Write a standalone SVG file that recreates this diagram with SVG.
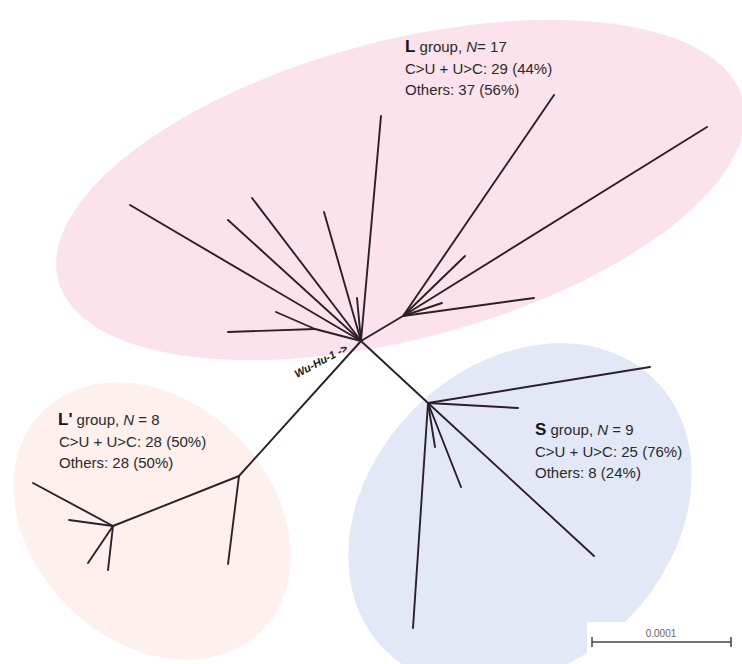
<svg xmlns="http://www.w3.org/2000/svg" width="742" height="664" viewBox="0 0 742 664">
<style>
.bg{fill:#ffffff}
.br{stroke:#2b2028;stroke-width:1.9;stroke-linecap:round;fill:none}
.t{font-family:"Liberation Sans",Arial,sans-serif;font-size:15px;fill:#2a2a2a}
.b{font-weight:bold;font-size:17px;fill:#141414}
.i{font-style:italic}
.wu{font-family:"Liberation Sans",Arial,sans-serif;font-size:11px;font-weight:bold;font-style:italic;fill:#1a1a1a}
.sc{font-family:"Liberation Sans",Arial,sans-serif;font-size:10px;fill:#666666}
</style>
<rect class="bg" x="0" y="0" width="742" height="664"/>

<g id="group-L">
  <ellipse cx="400.5" cy="190" rx="354" ry="149" transform="rotate(-14.8 400.5 190)" fill="#fbe2eb"/>
  <text class="t" x="405" y="52"><tspan class="b">L</tspan> group,  <tspan class="i">N</tspan>= 17</text>
  <text class="t" x="405" y="74">C&gt;U + U&gt;C: 29 (44%)</text>
  <text class="t" x="405" y="95">Others: 37 (56%)</text>
</g>

<g id="group-Lprime">
  <ellipse cx="152" cy="521" rx="155" ry="120" transform="rotate(45 152 521)" fill="#fdf0ed"/>
  <text class="t" x="58" y="425"><tspan class="b">L'</tspan> group, <tspan class="i">N</tspan> = 8</text>
  <text class="t" x="59" y="447">C&gt;U + U&gt;C: 28 (50%)</text>
  <text class="t" x="59" y="468">Others: 28 (50%)</text>
</g>

<g id="group-S">
  <ellipse cx="520" cy="515" rx="191" ry="150" transform="rotate(-45 520 515)" fill="#e3e8f7"/>
  <rect x="587" y="622" width="155" height="42" fill="#ffffff"/>
  <text class="t" x="535" y="435"><tspan class="b">S</tspan> group, <tspan class="i">N</tspan> = 9</text>
  <text class="t" x="535" y="457">C&gt;U + U&gt;C: 25 (76%)</text>
  <text class="t" x="535" y="478">Others: 8 (24%)</text>
</g>

<g id="connectors">
  <!-- L group, from root -->
  <line class="br" x1="361" y1="341" x2="381" y2="116"/>
  <line class="br" x1="361" y1="341" x2="130" y2="205"/>
  <line class="br" x1="361" y1="341" x2="228" y2="220"/>
  <line class="br" x1="361" y1="341" x2="252" y2="198"/>
  <line class="br" x1="361" y1="341" x2="324" y2="212"/>
  <line class="br" x1="361" y1="341" x2="357" y2="298"/>
  <!-- L left sub-clade -->
  <line class="br" x1="361" y1="341" x2="315" y2="329"/>
  <line class="br" x1="315" y1="329" x2="228" y2="332"/>
  <line class="br" x1="315" y1="329" x2="276" y2="312"/>
  <!-- L right sub-clade -->
  <line class="br" x1="361" y1="341" x2="403" y2="316"/>
  <line class="br" x1="403" y1="316" x2="554" y2="95"/>
  <line class="br" x1="403" y1="316" x2="707" y2="127"/>
  <line class="br" x1="403" y1="316" x2="465" y2="256"/>
  <line class="br" x1="403" y1="316" x2="442" y2="303"/>
  <line class="br" x1="403" y1="316" x2="534" y2="298"/>
  <!-- L' group -->
  <line class="br" x1="361" y1="341" x2="239" y2="476"/>
  <line class="br" x1="239" y1="476" x2="228" y2="564"/>
  <line class="br" x1="239" y1="476" x2="113" y2="526"/>
  <line class="br" x1="113" y1="526" x2="33" y2="483"/>
  <line class="br" x1="113" y1="526" x2="69" y2="520"/>
  <line class="br" x1="113" y1="526" x2="88" y2="563"/>
  <line class="br" x1="113" y1="526" x2="108" y2="570"/>
  <!-- S group -->
  <line class="br" x1="361" y1="341" x2="428" y2="403"/>
  <line class="br" x1="428" y1="403" x2="650" y2="367"/>
  <line class="br" x1="428" y1="403" x2="518" y2="408"/>
  <line class="br" x1="428" y1="403" x2="435" y2="447"/>
  <line class="br" x1="428" y1="403" x2="461" y2="487"/>
  <line class="br" x1="428" y1="403" x2="594" y2="556"/>
  <line class="br" x1="428" y1="403" x2="413" y2="628"/>
</g>

<g id="wuhu-label">
  <text class="wu" transform="translate(297 378) rotate(-28)">Wu-Hu-1 -&gt;</text>
</g>

<g id="scale-bar">
  <line x1="592" y1="642" x2="731" y2="642" stroke="#444" stroke-width="1.5"/>
  <line x1="592" y1="637" x2="592" y2="647" stroke="#444" stroke-width="1.5"/>
  <line x1="731" y1="637" x2="731" y2="647" stroke="#444" stroke-width="1.5"/>
  <text class="sc" x="661" y="637" text-anchor="middle">0.0001</text>
</g>
</svg>
